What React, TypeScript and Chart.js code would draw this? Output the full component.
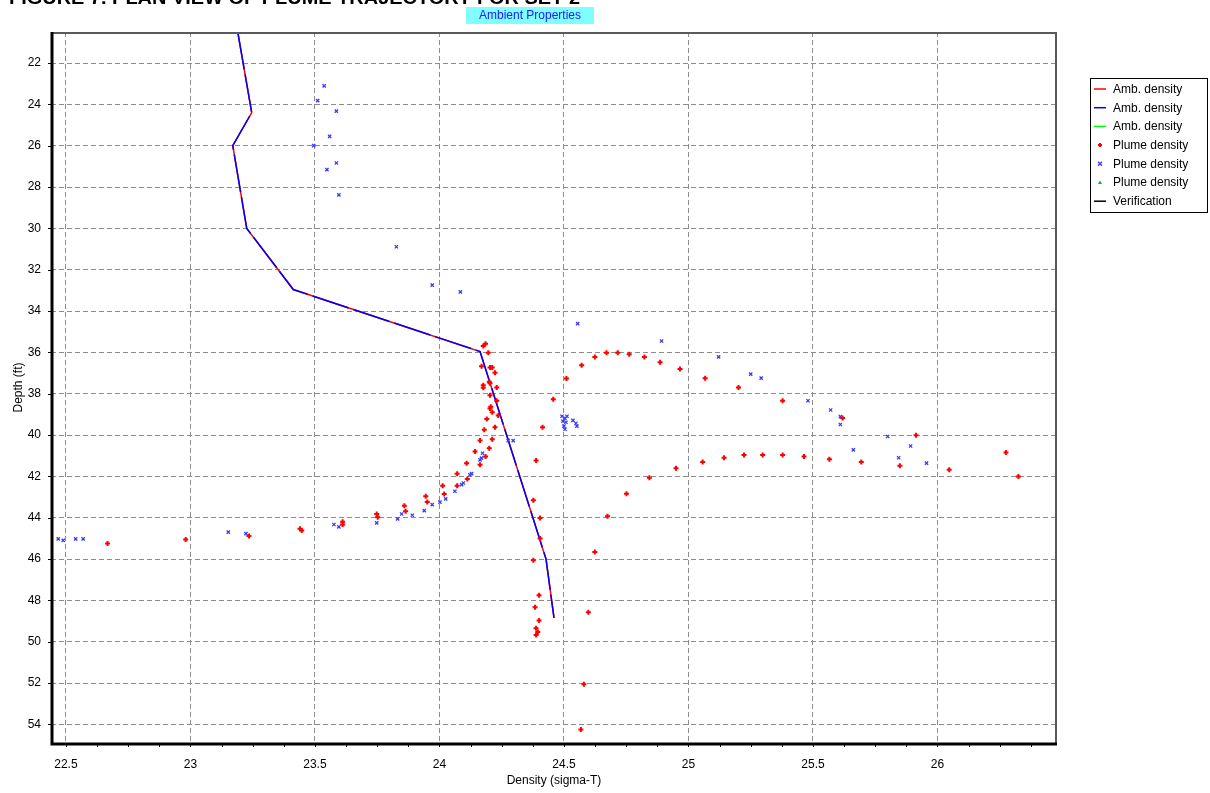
import React, { useEffect, useRef } from "react";
import { Chart, registerables } from "chart.js";

Chart.register(...registerables);

// Axis tick positions
const xTicks = [22.5, 23, 23.5, 24, 24.5, 25, 25.5, 26];
const yTicks = [22, 24, 26, 28, 30, 32, 34, 36, 38, 40, 42, 44, 46, 48, 50, 52, 54];

// Ambient density profile (sigma-T vs depth in ft)
const ambientDensity = [23.19, 23.246, 23.17, 23.226, 23.413, 24.163, 24.428, 24.46];
const ambientDepth = [20.5, 24.4, 26.0, 30.0, 32.96, 35.96, 46.0, 48.85];

// Plume density, first case (red plus markers)
const plumeRedDensity = [
  22.667, 22.981, 23.235, 23.44, 23.447, 23.611, 23.611, 23.748, 23.752, 23.859,
  23.864, 23.945, 23.951, 24.013, 24.019, 24.071, 24.071, 24.109, 24.112, 24.143,
  24.163, 24.163, 24.185, 24.2, 24.212, 24.18, 24.223, 24.19, 24.236, 24.212,
  24.206, 24.203, 24.23, 24.203, 24.176, 24.176, 24.23, 24.2, 24.203, 24.223,
  24.203, 24.212, 24.169, 24.196, 24.176, 24.185,
  24.51, 24.571, 24.624, 24.671, 24.716, 24.762, 24.823, 24.886, 24.966, 25.067,
  25.201, 25.378, 25.619, 25.914,
  24.457, 24.414, 24.388, 24.377, 24.404, 24.404, 24.377, 24.4, 24.384, 24.4,
  24.388, 24.395, 24.388,
  24.751, 24.675, 24.624, 24.598, 24.58, 24.568,
  24.843, 24.95, 25.057, 25.143, 25.223, 25.298, 25.378, 25.464, 25.566, 25.694,
  25.849, 26.047, 26.275, 26.325,
];
const plumeRedDepth = [
  45.25, 45.06, 44.89, 44.53, 44.62, 44.2, 44.33, 43.82, 43.98, 43.42,
  43.69, 42.96, 43.24, 42.45, 42.85, 41.87, 42.45, 41.36, 42.13, 40.8,
  40.27, 41.44, 41.04, 40.64, 40.2, 39.75, 39.62, 39.22, 39.06, 38.9,
  38.63, 38.71, 38.34, 38.07, 37.59, 37.71, 37.7, 37.42, 37.5, 36.99,
  36.73, 36.73, 36.67, 36.02, 35.69, 35.58,
  37.26, 36.62, 36.22, 36.02, 36.02, 36.09, 36.22, 36.48, 36.8, 37.25,
  37.7, 38.34, 39.18, 40.01,
  38.27, 39.62, 41.23, 43.16, 44.01, 45.0, 46.06, 47.75, 48.33, 48.97,
  49.35, 49.53, 49.68,
  42.84, 43.93, 45.66, 48.58, 52.06, 54.25,
  42.07, 41.61, 41.3, 41.1, 40.97, 40.97, 40.97, 41.04, 41.17, 41.3,
  41.49, 41.68, 40.84, 42.0,
];

// Plume density, second case (blue x markers)
const plumeBlueDensity = [
  23.537, 23.511, 23.586, 23.559, 23.495, 23.586, 23.548, 23.596, 23.827, 23.971,
  24.084, 24.555, 24.892, 25.121, 25.25, 25.292, 25.48, 25.571, 25.61, 25.61,
  25.8, 25.892, 25.662, 25.844, 25.956,
  24.492, 24.504, 24.512, 24.496, 24.508, 24.5, 24.504, 24.536, 24.548, 24.552,
  22.469, 22.489, 22.539, 22.569, 23.152, 23.223, 23.576, 23.596, 23.748, 23.832,
  23.848, 23.891, 23.939, 23.971, 24.002, 24.025, 24.062, 24.089, 24.096, 24.122,
  24.129, 24.163, 24.169, 24.173, 24.276, 24.296,
];
const plumeBlueDepth = [
  23.11, 23.82, 24.33, 25.55, 26.0, 26.84, 27.16, 28.38, 30.89, 32.75,
  33.07, 34.61, 35.45, 36.22, 37.05, 37.25, 38.34, 38.79, 39.11, 39.49,
  40.07, 40.53, 40.72, 41.1, 41.36,
  39.09, 39.19, 39.09, 39.33, 39.38, 39.57, 39.72, 39.29, 39.43, 39.57,
  45.02, 45.1, 45.02, 45.02, 44.7, 44.77, 44.33, 44.44, 44.25, 44.06,
  43.82, 43.88, 43.66, 43.37, 43.25, 43.09, 42.72, 42.4, 42.32, 41.92,
  41.87, 41.2, 41.12, 40.88, 40.27, 40.27,
];

const pageTitle = "FIGURE 7. PLAN VIEW OF PLUME TRAJECTORY FOR SET 2";
const chartTitle = "Ambient Properties";
const xTitle = "Density (sigma-T)";
const yTitle = "Depth (ft)";

const toPoints = (xs: number[], ys: number[]) => xs.map((x, i) => ({ x, y: ys[i] }));

const FONT = "'Liberation Sans', Arial, sans-serif";

function drawMarker(ctx: CanvasRenderingContext2D, style: string, x: number, y: number, r: number, color: string) {
  ctx.save();
  ctx.strokeStyle = color;
  ctx.fillStyle = color;
  ctx.beginPath();
  if (style === "cross") {
    ctx.lineWidth = 2;
    ctx.moveTo(x - r, y);
    ctx.lineTo(x + r, y);
    ctx.moveTo(x, y - r);
    ctx.lineTo(x, y + r);
    ctx.stroke();
  } else if (style === "crossRot") {
    ctx.lineWidth = 1.3;
    ctx.moveTo(x - r, y - r);
    ctx.lineTo(x + r, y + r);
    ctx.moveTo(x + r, y - r);
    ctx.lineTo(x - r, y + r);
    ctx.stroke();
  } else if (style === "triangle") {
    ctx.moveTo(x, y - r);
    ctx.lineTo(x + r, y + r * 0.8);
    ctx.lineTo(x - r, y + r * 0.8);
    ctx.closePath();
    ctx.fill();
  }
  ctx.restore();
}

// Frame, minor ticks, title box and legend drawn on top of the plot
const decorations = {
  id: "decorations",
  afterDraw(chart: any) {
    const { ctx, chartArea } = chart;
    const { left, right, top, bottom } = chartArea;
    const xs = chart.scales.x;
    const ys = chart.scales.y;
    ctx.save();

    // minor ticks below the density axis
    ctx.strokeStyle = "#000";
    ctx.lineWidth = 1;
    for (let v = 22.5; v <= 26.5; v += 0.125) {
      const px = Math.round(xs.getPixelForValue(v)) + 0.5;
      if (px < left || px > right) continue;
      ctx.beginPath();
      ctx.moveTo(px, bottom);
      ctx.lineTo(px, bottom + 4);
      ctx.stroke();
    }
    // small ticks left of the depth axis
    for (const v of yTicks) {
      const py = Math.round(ys.getPixelForValue(v)) + 0.5;
      ctx.beginPath();
      ctx.moveTo(left - 3, py);
      ctx.lineTo(left, py);
      ctx.stroke();
    }

    // plot frame
    ctx.strokeStyle = "#5a5a5a";
    ctx.lineWidth = 2;
    ctx.beginPath();
    ctx.moveTo(left, top + 1);
    ctx.lineTo(right, top + 1);
    ctx.moveTo(right - 1, top);
    ctx.lineTo(right - 1, bottom);
    ctx.stroke();
    ctx.strokeStyle = "#000";
    ctx.lineWidth = 3;
    ctx.beginPath();
    ctx.moveTo(left + 1, top);
    ctx.lineTo(left + 1, bottom + 1);
    ctx.lineTo(right, bottom + 1);
    ctx.stroke();

    // page heading, mostly above the visible page
    ctx.fillStyle = "#000";
    ctx.font = `bold 18px ${FONT}`;
    ctx.textBaseline = "alphabetic";
    ctx.textAlign = "left";
    const w = ctx.measureText(pageTitle).width;
    ctx.save();
    ctx.translate(9, 4);
    ctx.scale(571 / w, 1);
    ctx.fillText(pageTitle, 0, 0);
    ctx.restore();

    // chart title on cyan box
    ctx.fillStyle = "#80ffff";
    ctx.fillRect(466, 7, 128, 17);
    ctx.fillStyle = "#1a1aff";
    ctx.font = `12px ${FONT}`;
    ctx.textAlign = "center";
    ctx.textBaseline = "middle";
    ctx.fillText(chartTitle, 530, 16);

    // legend
    const lx = 1090, ly = 78, lw = 117, lh = 134;
    ctx.fillStyle = "#fff";
    ctx.fillRect(lx, ly, lw, lh);
    ctx.strokeStyle = "#000";
    ctx.lineWidth = 1;
    ctx.strokeRect(lx + 0.5, ly + 0.5, lw, lh);
    ctx.font = `12px ${FONT}`;
    ctx.textAlign = "left";
    ctx.textBaseline = "middle";
    chart.data.datasets.forEach((ds: any, i: number) => {
      const cy = ly + 11 + i * 18.7;
      if (ds.showLine) {
        ctx.strokeStyle = ds.borderColor;
        ctx.lineWidth = 1.5;
        ctx.setLineDash([]);
        ctx.beginPath();
        ctx.moveTo(lx + 4, cy);
        ctx.lineTo(lx + 16, cy);
        ctx.stroke();
      } else {
        drawMarker(ctx, ds.pointStyle, lx + 10, cy, 2, ds.borderColor);
      }
      ctx.fillStyle = "#000";
      ctx.fillText(ds.label, lx + 23, cy + 0.5);
    });

    ctx.restore();
  },
};

export default function App() {
  const ref = useRef<HTMLCanvasElement | null>(null);

  useEffect(() => {
    if (!ref.current) return;
    const ambient = toPoints(ambientDensity, ambientDepth);
    const chart = new Chart(ref.current, {
      type: "scatter",
      data: {
        datasets: [
          {
            label: "Amb. density",
            data: ambient,
            showLine: true,
            borderColor: "#ff0000",
            backgroundColor: "#ff0000",
            borderWidth: 1.5,
            pointRadius: 0,
            order: 10,
          },
          {
            label: "Amb. density",
            data: ambient,
            showLine: true,
            borderColor: "#0000ff",
            backgroundColor: "#0000ff",
            borderWidth: 1.5,
            borderDash: [38, 5],
            pointRadius: 0,
            order: 9,
          },
          {
            label: "Amb. density",
            data: [],
            showLine: true,
            borderColor: "#00ff00",
            backgroundColor: "#00ff00",
            borderWidth: 1.5,
            pointRadius: 0,
            order: 8,
          },
          {
            label: "Plume density",
            data: toPoints(plumeRedDensity, plumeRedDepth),
            showLine: false,
            pointStyle: "cross",
            pointRadius: 2.5,
            borderWidth: 2,
            borderColor: "#ff0000",
            backgroundColor: "#ff0000",
            order: 2,
          },
          {
            label: "Plume density",
            data: toPoints(plumeBlueDensity, plumeBlueDepth),
            showLine: false,
            pointStyle: "crossRot",
            pointRadius: 2.3,
            borderWidth: 1.3,
            borderColor: "#3a3aff",
            backgroundColor: "#3a3aff",
            order: 1,
          },
          {
            label: "Plume density",
            data: [],
            showLine: false,
            pointStyle: "triangle",
            pointRadius: 2.5,
            borderColor: "#00c000",
            backgroundColor: "#00c000",
            order: 3,
          },
          {
            label: "Verification",
            data: [],
            showLine: true,
            borderColor: "#000000",
            backgroundColor: "#000000",
            borderWidth: 1.5,
            pointRadius: 0,
            order: 7,
          },
        ],
      },
      options: {
        animation: false,
        responsive: true,
        maintainAspectRatio: false,
        layout: { padding: { top: 32, right: 153, left: 0, bottom: 0 } },
        plugins: {
          legend: { display: false },
          title: { display: false },
          tooltip: { enabled: false },
        },
        scales: {
          x: {
            type: "linear",
            position: "bottom",
            min: 22.44,
            max: 26.48,
            afterBuildTicks: (scale: any) => {
              scale.ticks = xTicks.map((value) => ({ value }));
            },
            afterFit: (scale: any) => {
              scale.height = 50;
            },
            grid: { color: "#8c8c8c", lineWidth: 1, drawTicks: false },
            border: { display: false, dash: [5, 3] },
            ticks: {
              color: "#000",
              padding: 14,
              maxRotation: 0,
              font: { family: FONT, size: 12 },
              callback: (value: any) => String(value),
            },
            title: {
              display: true,
              text: xTitle,
              color: "#000",
              padding: { top: 0, bottom: 5 },
              font: { family: FONT, size: 12 },
            },
          },
          y: {
            type: "linear",
            position: "left",
            reverse: true,
            min: 20.5,
            max: 54.9,
            afterBuildTicks: (scale: any) => {
              scale.ticks = yTicks.map((value) => ({ value }));
            },
            afterFit: (scale: any) => {
              scale.width = 51;
            },
            grid: { color: "#8c8c8c", lineWidth: 1, drawTicks: false },
            border: { display: false, dash: [5, 3] },
            ticks: {
              color: "#000",
              padding: 10,
              font: { family: FONT, size: 12 },
              callback: (value: any) => String(value),
            },
            title: {
              display: true,
              text: yTitle,
              color: "#000",
              padding: { top: 11, bottom: 0 },
              font: { family: FONT, size: 12 },
            },
          },
        },
      },
      plugins: [decorations],
    } as any);
    return () => chart.destroy();
  }, []);

  return (
    <div
      style={{
        position: "absolute",
        left: 0,
        top: 0,
        width: 1210,
        height: 793,
        background: "#fff",
      }}
    >
      <canvas ref={ref} />
    </div>
  );
}
